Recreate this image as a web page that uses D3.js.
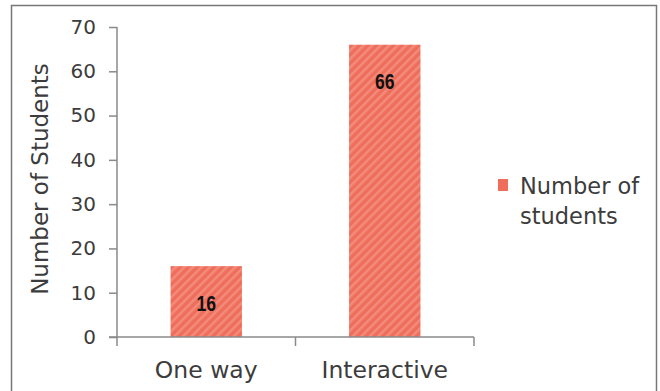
<!DOCTYPE html>
<html>
<head>
<meta charset="utf-8">
<script src="https://cdn.jsdelivr.net/npm/d3@7"></script>
<style>
  html, body { margin: 0; padding: 0; background: #fff; }
  svg { display: block; }
</style>
</head>
<body>
<svg id="chart" width="660" height="391"></svg>
<script>
// Data
const categories = ["One way", "Interactive"];
const values = [16, 66];
const yTicks = [0, 10, 20, 30, 40, 50, 60, 70];
const seriesName = ["Number of", "students"];
const yTitle = "Number of Students";

const svg = d3.select("#chart");
const font = "'DejaVu Sans', 'Noto Sans', sans-serif";
const textColor = "#3c3c3c";
const axisColor = "#8a8a8a";

// Outer frame (runs off the bottom edge)
svg.append("rect")
  .attr("x", 11.5).attr("y", 5.5)
  .attr("width", 645).attr("height", 400)
  .attr("fill", "none").attr("stroke", "#777").attr("stroke-width", 1.5);

// Hatched fill for the bars
const defs = svg.append("defs");
const pat = defs.append("pattern")
  .attr("id", "hatch")
  .attr("patternUnits", "userSpaceOnUse")
  .attr("width", 6).attr("height", 6)
  .attr("patternTransform", "rotate(45)");
pat.append("rect").attr("width", 6).attr("height", 6).attr("fill", "#EE6E5B");
pat.append("rect").attr("x", 0).attr("width", 2.5).attr("height", 6).attr("fill", "#F38B7C");

const plot = { left: 117, right: 474, top: 27, bottom: 337 };

const x = d3.scaleBand()
  .domain(categories)
  .range([plot.left, plot.right])
  .paddingInner(0.6).paddingOuter(0.3);

const y = d3.scaleLinear()
  .domain([0, 70])
  .range([plot.bottom, plot.top]);

// Bars
svg.append("g").selectAll("rect")
  .data(values)
  .join("rect")
  .attr("x", (d, i) => x(categories[i]))
  .attr("y", d => y(d))
  .attr("width", x.bandwidth())
  .attr("height", d => y(0) - y(d))
  .attr("fill", "url(#hatch)");

// Value labels (bold, horizontally condensed)
svg.append("g").selectAll("text")
  .data(values)
  .join("text")
  .attr("transform", (d, i) =>
    `translate(${x(categories[i]) + x.bandwidth() / 2},${y(d) + 44.5}) scale(0.8,1)`)
  .attr("text-anchor", "middle")
  .attr("font-family", "'Liberation Sans', Arial, sans-serif")
  .attr("font-weight", "bold")
  .attr("font-size", 22)
  .attr("fill", "#111")
  .text(d => d);

// Y axis
const yAxis = svg.append("g")
  .attr("transform", `translate(${plot.left},0)`)
  .call(d3.axisLeft(y).tickValues(yTicks).tickSize(8).tickPadding(13));
yAxis.select(".domain").attr("stroke", axisColor).attr("stroke-width", 1.5)
  .attr("d", `M0,${plot.top}V${plot.bottom}`);
yAxis.selectAll(".tick line").attr("stroke", axisColor).attr("stroke-width", 1.5);
yAxis.selectAll(".tick text")
  .attr("font-family", font).attr("font-size", 20).attr("fill", textColor);

// X axis with boundary ticks between categories
const xAxis = svg.append("g")
  .attr("transform", `translate(0,${plot.bottom})`);
xAxis.append("line")
  .attr("x1", plot.left - 8).attr("x2", plot.right)
  .attr("stroke", axisColor).attr("stroke-width", 1.5);
const bounds = [plot.left, (plot.left + plot.right) / 2, plot.right];
xAxis.selectAll(".bt")
  .data(bounds)
  .join("line")
  .attr("x1", d => d).attr("x2", d => d)
  .attr("y1", 0).attr("y2", 9)
  .attr("stroke", axisColor).attr("stroke-width", 1.5);
xAxis.selectAll("text")
  .data(categories)
  .join("text")
  .attr("x", d => x(d) + x.bandwidth() / 2)
  .attr("y", 41)
  .attr("text-anchor", "middle")
  .attr("font-family", font).attr("font-size", 23.5).attr("fill", textColor)
  .text(d => d);

// Y axis title
svg.append("text")
  .attr("transform", `translate(48,179) rotate(-90)`)
  .attr("text-anchor", "middle")
  .attr("font-family", font).attr("font-size", 23).attr("fill", textColor)
  .text(yTitle);

// Legend
const legend = svg.append("g");
legend.append("rect")
  .attr("x", 498).attr("y", 179).attr("width", 10).attr("height", 12)
  .attr("fill", "#EE6E5B");
legend.selectAll("text")
  .data(seriesName)
  .join("text")
  .attr("x", 520)
  .attr("y", (d, i) => 194 + i * 30)
  .attr("font-family", font).attr("font-size", 22.5).attr("fill", textColor)
  .text(d => d);
</script>
</body>
</html>
